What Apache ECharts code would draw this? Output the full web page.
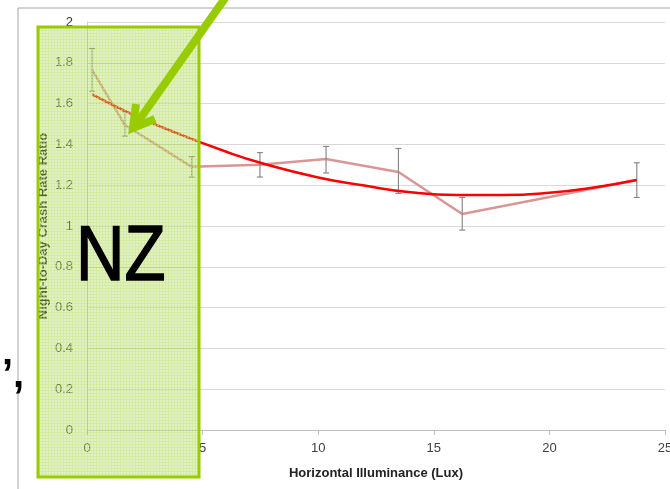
<!DOCTYPE html>
<html>
<head>
<meta charset="utf-8">
<script src="https://cdn.jsdelivr.net/npm/echarts@6/dist/echarts.min.js"></script>
<style>
  html, body { margin: 0; padding: 0; background: #fff; }
  #chart { width: 670px; height: 489px; }
</style>
</head>
<body>
<div id="chart"></div>
<script>
// measured points (lux, night/day ratio) with error bar ends
var luxValues = [0.22, 1.64, 4.53, 7.48, 10.34, 13.47, 16.23, 23.78];
var ratioValues = [1.765, 1.495, 1.29, 1.30, 1.328, 1.265, 1.059, 1.225];
var errLow = [1.66, 1.44, 1.24, 1.24, 1.26, 1.16, 0.98, 1.14];
var errHigh = [1.87, 1.56, 1.34, 1.36, 1.39, 1.38, 1.14, 1.31];

// trend line
var trendLux = [0.22, 2, 4, 6, 7.5, 10, 12, 14, 16, 18, 20, 22, 23.78];
var trendRatio = [1.645, 1.545, 1.45, 1.365, 1.31, 1.238, 1.198, 1.165, 1.152, 1.152, 1.163, 1.19, 1.225];

var xTicks = [0, 5, 10, 15, 20, 25];
var yTicks = [0, 0.2, 0.4, 0.6, 0.8, 1, 1.2, 1.4, 1.6, 1.8, 2];

var myChart = echarts.init(document.getElementById("chart"));

var pointData = luxValues.map(function (v, i) { return [v, ratioValues[i]]; });
var errData = luxValues.map(function (v, i) { return [v, errLow[i], errHigh[i]]; });
var trendData = trendLux.map(function (v, i) { return [v, trendRatio[i]]; });

// hatched fill for the green box
var pat = document.createElement("canvas");
pat.width = 3;
pat.height = 3;
var c = pat.getContext("2d");
c.fillStyle = "rgba(160,210,50,0.45)";
c.fillRect(0, 0, 3, 3);
c.fillStyle = "rgba(255,255,255,0.35)";
c.fillRect(1, 1, 2, 2);

var option = {
  animation: false,
  grid: { left: 87, right: 5, top: 22, bottom: 59, outerBoundsMode: "none" },
  xAxis: {
    type: "value",
    min: 0,
    max: 25,
    interval: 5,
    name: "Horizontal Illuminance (Lux)",
    nameLocation: "middle",
    nameGap: 37,
    nameTextStyle: { fontSize: 13, fontWeight: "bold", color: "#222", fontFamily: "Liberation Sans" },
    axisLine: { show: true, lineStyle: { color: "#bfbfbf" } },
    axisTick: { show: true, length: 5, lineStyle: { color: "#bfbfbf" } },
    axisLabel: {
      margin: 12,
      fontSize: 13,
      color: "#404040",
      fontFamily: "Liberation Sans",
      formatter: function (v) { return xTicks.indexOf(v) >= 0 ? String(v) : ""; }
    },
    splitLine: { show: false }
  },
  yAxis: {
    type: "value",
    min: 0,
    max: 2,
    interval: 0.2,
    name: "Night-to-Day Crash Rate Ratio",
    nameLocation: "middle",
    nameGap: 37,
    nameMoveOverlap: false,
    nameTextStyle: { fontSize: 13, fontWeight: "bold", color: "#111", fontFamily: "Liberation Sans" },
    axisLine: { show: true, lineStyle: { color: "#d0d0d0" } },
    axisTick: { show: false },
    axisLabel: {
      margin: 14,
      fontSize: 13,
      color: "#333",
      fontFamily: "Liberation Sans",
      formatter: function (v) {
        var r = Math.round(v * 10) / 10;
        return yTicks.indexOf(r) >= 0 ? String(r) : "";
      }
    },
    splitLine: { show: true, lineStyle: { color: "#d9d9d9", width: 1 } }
  },
  series: [
    {
      type: "line",
      data: pointData,
      symbol: "none",
      lineStyle: { color: "#d99694", width: 2.5 },
      z: 2
    },
    {
      type: "custom",
      data: errData,
      z: 3,
      renderItem: function (params, api) {
        var x = api.value(0);
        var top = api.coord([x, api.value(2)]);
        var bot = api.coord([x, api.value(1)]);
        var w = 3;
        var st = { stroke: "#8a8a8a", lineWidth: 1.2 };
        return {
          type: "group",
          children: [
            { type: "line", shape: { x1: top[0], y1: top[1], x2: bot[0], y2: bot[1] }, style: st },
            { type: "line", shape: { x1: top[0] - w, y1: top[1], x2: top[0] + w, y2: top[1] }, style: st },
            { type: "line", shape: { x1: bot[0] - w, y1: bot[1], x2: bot[0] + w, y2: bot[1] }, style: st }
          ]
        };
      }
    },
    {
      type: "line",
      data: trendData,
      smooth: true,
      symbol: "none",
      lineStyle: { color: "#ff0000", width: 2.5 },
      z: 4
    }
  ],
  graphic: [
    {
      type: "rect",
      z: -10,
      shape: { x: 18, y: 8, width: 720, height: 520 },
      style: { fill: "none", stroke: "#a6a6a6", lineWidth: 1 }
    },
    {
      type: "rect",
      z: 100,
      shape: { x: 38, y: 27, width: 161, height: 450 },
      style: { fill: { image: pat, repeat: "repeat" }, stroke: "#99cc00", lineWidth: 3 }
    },
    {
      type: "line",
      z: 101,
      shape: { x1: 228, y1: -6, x2: 137, y2: 123 },
      style: { stroke: "#99cc00", lineWidth: 8 }
    },
    {
      type: "polyline",
      z: 101,
      shape: { points: [[136, 104], [133, 128], [155, 119]] },
      style: { stroke: "#99cc00", lineWidth: 8, fill: "none", lineJoin: "miter" }
    },
    {
      type: "text",
      z: 102,
      x: 76,
      y: 258,
      scaleX: 0.86,
      style: {
        text: "NZ",
        font: "78px 'Liberation Sans'",
        fill: "#000",
        stroke: "#000",
        lineWidth: 1.5,
        textVerticalAlign: "middle"
      }
    },
    {
      type: "text",
      z: 102,
      x: 2,
      y: 376,
      style: {
        text: "\u2019,",
        font: "bold 40px 'Liberation Sans'",
        fill: "#000",
        textVerticalAlign: "middle"
      }
    }
  ]
};

myChart.setOption(option);
</script>
</body>
</html>
